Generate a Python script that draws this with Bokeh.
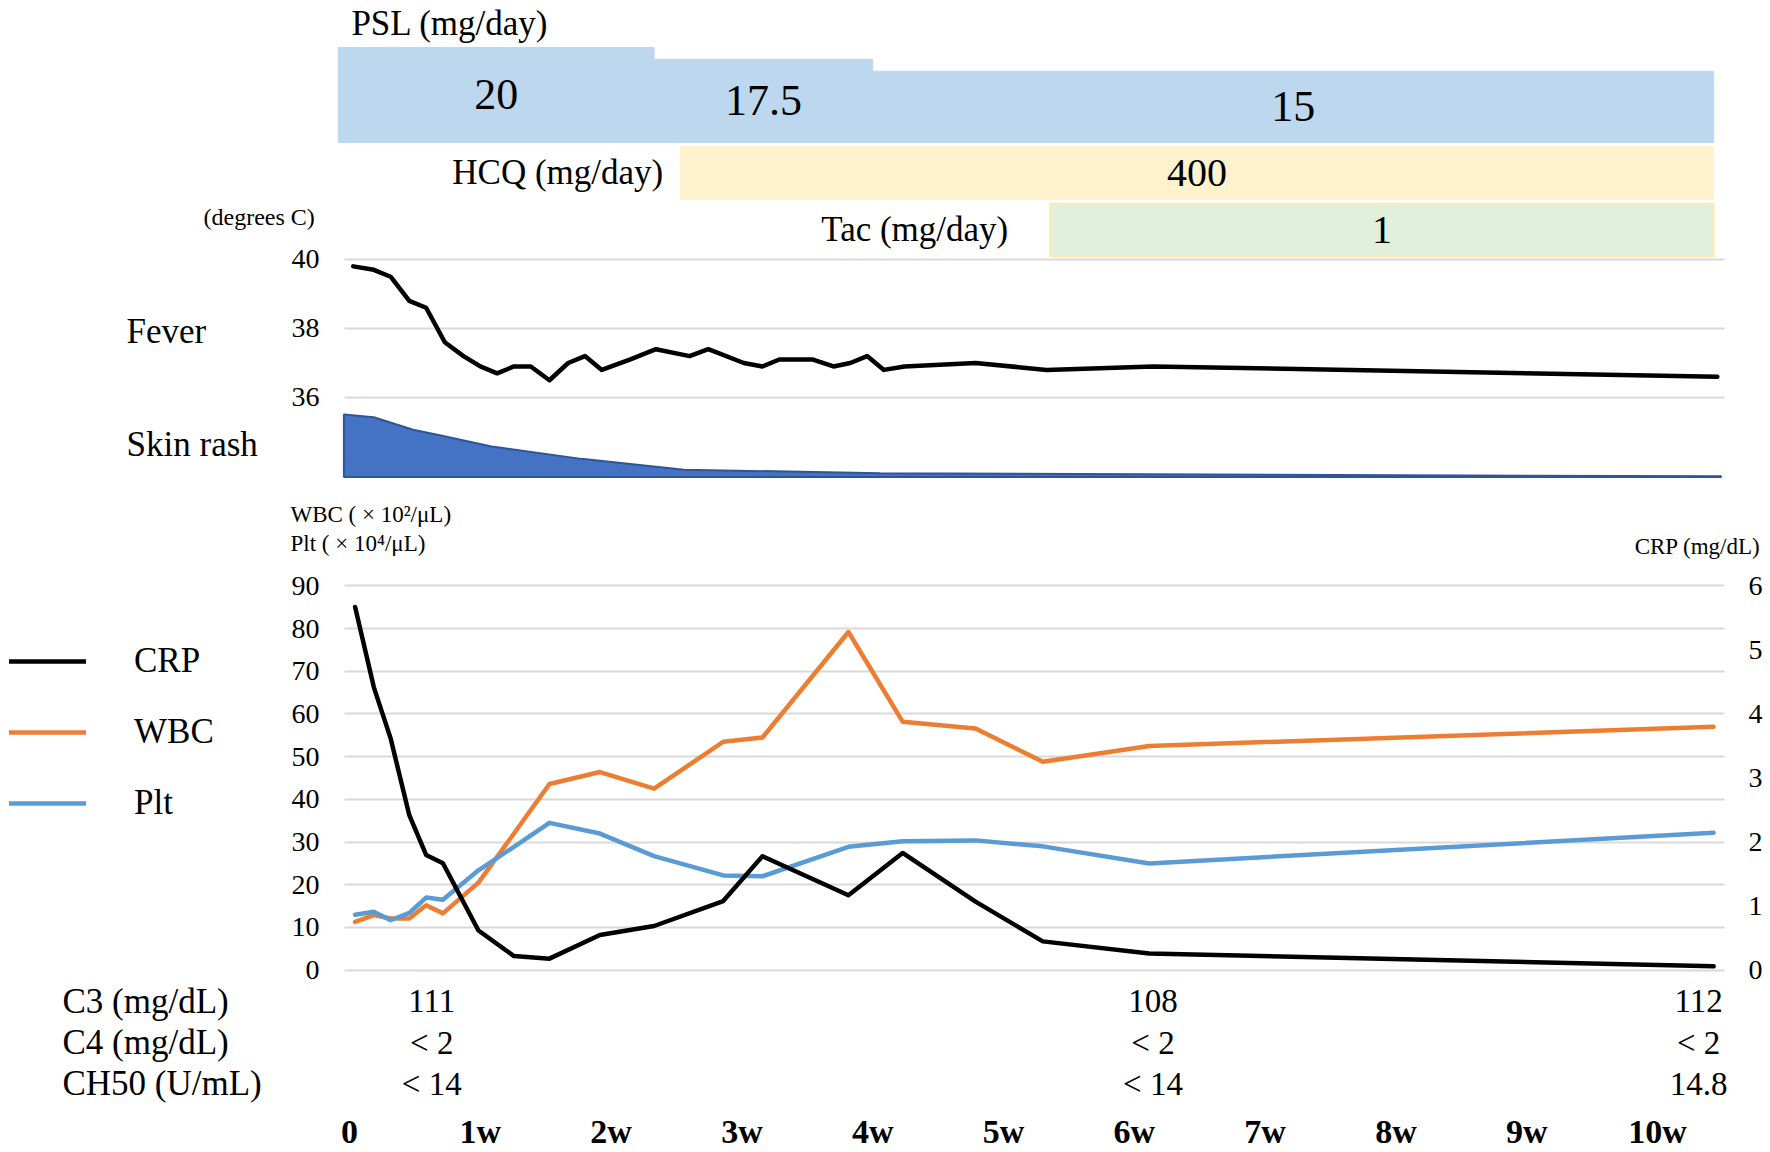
from bokeh.plotting import figure
from bokeh.models import Range1d, LinearAxis, FixedTicker, Legend, LegendItem, ColumnDataSource, Grid
from bokeh.embed import file_html
from bokeh.resources import INLINE
from bokeh.core.properties import value

FONT = "Liberation Serif"

# ---------------- data ----------------
psl_start = [-0.6, 16.3, 28.0]
psl_end = [16.3, 28.0, 73.0]
psl_dose = [20, 17.5, 15]
psl_text = ["20", "17.5", "15"]
hcq_start, hcq_end, hcq_text = 17.7, 73.0, "400"
tac_start, tac_end, tac_text = 37.5, 73.0, "1"

fever_day = [0.2, 1.3, 2.2, 3.2, 4.1, 5.1, 6.1, 7.0, 7.9, 8.8, 9.7, 10.7, 11.7, 12.6, 13.5,
             15.0, 16.4, 18.2, 19.2, 21.1, 22.1, 23.0, 24.8, 25.9, 26.8, 27.7, 28.6, 29.7,
             33.5, 37.3, 43.0, 73.2]
fever_temp = [39.8, 39.7, 39.5, 38.8, 38.6, 37.6, 37.2, 36.9, 36.7, 36.9, 36.9, 36.5, 37.0,
              37.2, 36.8, 37.1, 37.4, 37.2, 37.4, 37.0, 36.9, 37.1, 37.1, 36.9, 37.0, 37.2,
              36.8, 36.9, 37.0, 36.8, 36.9, 36.6]

rash_day = [-0.3, 1.3, 3.4, 4.7, 7.6, 12.4, 17.9, 28.4, 73.4]
rash_score = [3.0, 2.87, 2.27, 2.03, 1.46, 0.87, 0.35, 0.18, 0.03]

lab_day = [0.3, 1.3, 2.2, 3.2, 4.1, 5.0, 6.9, 8.8, 10.7, 13.4, 16.3, 20.0, 22.1, 26.7,
           29.6, 33.5, 37.1, 42.8, 73.0]
crp = [5.67, 4.42, 3.62, 2.42, 1.80, 1.67, 0.62, 0.22, 0.18, 0.55, 0.69, 1.08, 1.78, 1.17,
       1.83, 1.07, 0.45, 0.26, 0.06]
wbc = [11.3, 12.9, 12.1, 12.1, 15.2, 13.3, 20.5, 32.0, 43.6, 46.4, 42.5, 53.5, 54.5, 79.2,
       58.2, 56.6, 48.8, 52.5, 57.0]
plt_count = [13.0, 13.7, 11.7, 13.4, 17.0, 16.5, 23.4, 28.9, 34.5, 32.0, 26.7, 22.2, 22.0,
             28.9, 30.2, 30.4, 29.0, 25.0, 32.2]

comp_day = [4.4, 43.0, 72.2]
c3 = ["111", "108", "112"]
c4 = ["< 2", "< 2", "< 2"]
ch50 = ["< 14", "< 14", "14.8"]
comp_rows = ["C3 (mg/dL)", "C4 (mg/dL)", "CH50 (U/mL)"]

week_ticks = [0, 7, 14, 21, 28, 35, 42, 49, 56, 63, 70]
week_labels = ["0", "1w", "2w", "3w", "4w", "5w", "6w", "7w", "8w", "9w", "10w"]
fever_ticks = [36, 38, 40]
lab_ticks = [0, 10, 20, 30, 40, 50, 60, 70, 80, 90]
crp_ticks = [0, 1, 2, 3, 4, 5, 6]

# ---------------- layout (one frame, one y range per panel) ----------------
WIDTH, HEIGHT = 1766, 1112
xr = Range1d(-18.677, 75.83)      # days
AXIS_L = -0.589                   # day where the left value axes sit
AXIS_R = 73.585                   # day where the CRP axis sits
GRID_BOUNDS = (-0.27, 73.6)
GRID = "#d9d9d9"
LABEL_X = -11.93
ROW_X = -15.36

p = figure(frame_width=WIDTH, frame_height=HEIGHT, x_range=xr,
           y_range=Range1d(-33.33, 227.10),                 # lab values (x10^2 / x10^4)
           output_backend="svg", toolbar_location=None,
           x_axis_location="below", y_axis_location=None,
           min_border_left=0, min_border_right=0, min_border_top=0, min_border_bottom=0)
p.extra_y_ranges = {
    "drug": Range1d(-204.21, 29.89),
    "fever": Range1d(15.275, 47.507),
    "rash": Range1d(-30.509, 22.875),
    "crp": Range1d(-33.33 / 15, 227.10 / 15),
    "table": Range1d(2.707, -24.41),
}
p.outline_line_color = None
p.background_fill_color = "white"
p.border_fill_color = "white"
p.grid.visible = False


def style_axis(ax, size="28px", standoff=19):
    ax.axis_line_color = None
    ax.major_tick_line_color = None
    ax.minor_tick_line_color = None
    ax.major_tick_out = 0
    ax.major_tick_in = 0
    ax.major_label_standoff = standoff
    ax.major_label_text_font = FONT
    ax.major_label_text_font_size = size
    ax.major_label_text_color = "black"


def texts(xs, ys, ts, rng, size="35px", align="left", x_offset=0):
    p.text(x=xs, y=ys, text=ts, text_font=value(FONT), text_font_size=value(size),
           text_align=align, text_baseline="middle", text_color="black",
           x_offset=x_offset, y_range_name=rng)


def value_axis(ticks, loc, side, standoff, rng, grid=False):
    ax = LinearAxis(ticker=FixedTicker(ticks=ticks), fixed_location=loc, y_range_name=rng)
    style_axis(ax, standoff=standoff)
    p.add_layout(ax, side)
    if grid:
        p.add_layout(Grid(dimension=1, ticker=FixedTicker(ticks=ticks), y_range_name=rng,
                          grid_line_color=GRID, grid_line_width=2, cross_bounds=GRID_BOUNDS))


# ---- medication bars ----
HCQ_BOT, HCQ_TOP = -12.0, -0.842
TAC_BOT, TAC_TOP = -24.0, -12.84
p.quad(left=psl_start, right=psl_end, bottom=0, top=psl_dose, y_range_name="drug",
       fill_color="#bdd7ee", line_color="#bdd7ee")
p.quad(left=[hcq_start], right=[hcq_end], bottom=HCQ_BOT, top=HCQ_TOP, y_range_name="drug",
       fill_color="#fff2cc", line_color="#fff2cc")
p.quad(left=[tac_start], right=[tac_end], bottom=TAC_BOT, top=TAC_TOP, y_range_name="drug",
       fill_color="#e2efda", line_color="#fde9b5", line_width=2)
drug_src = ColumnDataSource(dict(
    x=[(a + b) / 2 for a, b in zip(psl_start, psl_end)] + [(hcq_start + hcq_end) / 2, (tac_start + tac_end) / 2],
    y=[d / 2 for d in psl_dose] + [(HCQ_BOT + HCQ_TOP) / 2, (TAC_BOT + TAC_TOP) / 2],
    t=psl_text + [hcq_text, tac_text],
    s=["44px", "44px", "44px", "40px", "40px"],
))
p.text(x="x", y="y", text="t", source=drug_src, text_font=value(FONT), text_font_size="s",
       text_align="center", text_baseline="middle", text_color="black", y_range_name="drug")
texts([0.1], [25.05], ["PSL (mg/day)"], "drug")
texts([hcq_start, tac_start], [(HCQ_BOT + HCQ_TOP) / 2, (TAC_BOT + TAC_TOP) / 2],
      ["HCQ (mg/day)", "Tac (mg/day)"], "drug", align="right", x_offset=[-17, -42])
texts([-7.81], [-15.79], ["(degrees C)"], "drug", size="24px")

# ---- fever & skin rash ----
value_axis(fever_ticks, AXIS_L, "left", 19, "fever", grid=True)
p.patch(x=rash_day + rash_day[::-1], y=rash_score + [0] * len(rash_day), y_range_name="rash",
        fill_color="#4472c4", line_color="#2f5597", line_width=2)
p.line(fever_day, fever_temp, y_range_name="fever", line_color="black", line_width=4.5,
       line_join="round", line_cap="round")
texts([LABEL_X, LABEL_X], [37.91, 34.64], ["Fever", "Skin rash"], "fever")

# ---- laboratory values ----
value_axis(lab_ticks, AXIS_L, "left", 19, "default", grid=True)
value_axis(crp_ticks, AXIS_R, "right", 24, "crp")
LW = 4.5
r_wbc = p.line(lab_day, wbc, line_color="#ed7d31", line_width=LW, line_join="round", line_cap="round")
r_plt = p.line(lab_day, plt_count, line_color="#5b9bd5", line_width=LW, line_join="round", line_cap="round")
r_crp = p.line(lab_day, crp, y_range_name="crp", line_color="black", line_width=LW,
               line_join="round", line_cap="round")
legend = Legend(items=[LegendItem(label="CRP", renderers=[r_crp]),
                       LegendItem(label="WBC", renderers=[r_wbc]),
                       LegendItem(label="Plt", renderers=[r_plt])],
                location=(9, 289), glyph_width=77, glyph_height=40, label_standoff=48,
                spacing=31, padding=0, margin=0, border_line_color=None,
                background_fill_alpha=0, label_text_font=FONT, label_text_font_size="35px",
                label_text_color="black")
p.add_layout(legend)
texts([-3.16, -3.16], [106.7, 100.0], ["WBC ( × 10²/μL)", "Plt ( × 10⁴/μL)"], "default", size="23px")
texts([75.51], [99.3], ["CRP (mg/dL)"], "default", size="23px", align="right")

# ---- complement table & week axis ----
p.xaxis.ticker = FixedTicker(ticks=week_ticks)
p.xaxis.major_label_overrides = dict(zip(week_ticks, week_labels))
style_axis(p.xaxis[0], size="34px", standoff=0)
p.xaxis.major_label_text_font_style = "bold"
tab_x, tab_y, tab_t = [], [], []
for r, vals in enumerate([c3, c4, ch50]):
    tab_x += comp_day
    tab_y += [r] * len(comp_day)
    tab_t += vals
texts(tab_x, tab_y, tab_t, "table", size="33px", align="center")
texts([ROW_X] * len(comp_rows), list(range(len(comp_rows))), comp_rows, "table")

open("out.html", "w").write(file_html(p, INLINE))
